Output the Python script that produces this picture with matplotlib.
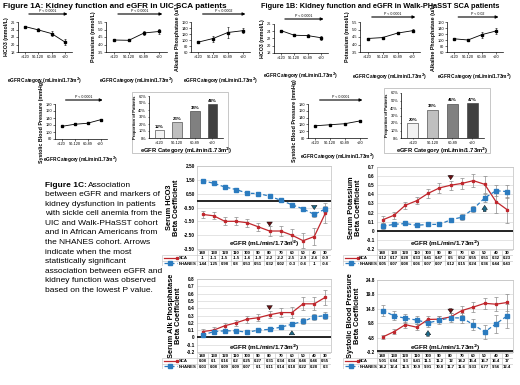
import numpy as np
import matplotlib
matplotlib.use("Agg")
import matplotlib.pyplot as plt
from matplotlib.patches import Rectangle
from matplotlib.ticker import FuncFormatter

plt.rcParams['font.family'] = ['Liberation Sans', 'DejaVu Sans']

# ---- Figure 1A / 1B data (eGFR categories) ----
categories = ['>120', '90-120', '60-89', '<60']

uic_hco3 = [24.8, 23.9, 22.9, 20.6]
uic_hco3_err = [0.2, 0.4, 0.6, 0.8]
uic_k = [4.30, 4.28, 4.77, 4.87]
uic_k_err = [0.03, 0.05, 0.12, 0.15]
uic_alp = [93, 105, 125, 131]
uic_alp_err = [3, 10, 18, 9]
uic_sbp = [116, 122, 125, 135]
uic_sbp_err = [1, 2, 2, 3]
uic_prop = [12, 23, 38, 48]
uic_p = ['P < 0.0001', 'P < 0.0001', 'P < 0.0002', 'P < 0.0001']

wp_hco3 = [24.2, 22.9, 22.8, 22.2]
wp_hco3_err = [0.1, 0.3, 0.4, 0.5]
wp_k = [4.40, 4.46, 4.76, 4.92]
wp_k_err = [0.02, 0.03, 0.06, 0.10]
wp_alp = [104, 100, 118, 130]
wp_alp_err = [3, 4, 10, 10]
wp_sbp = [116, 119, 122, 130]
wp_sbp_err = [1, 1, 2, 2]
wp_prop = [20, 38, 46, 47]
wp_p = ['P < 0.0001', 'P < 0.0001', 'P < 0.02', 'P < 0.0001']

# ---- Figure 1C data (beta coefficients by eGFR) ----
egfr = ['140', '130', '120', '110', '100', '90', '80', '70', '60', '50', '40', '30']

hco3_sca = [-1.0, -1.1, -1.5, -1.5, -1.6, -1.9, -2.2, -2.2, -2.5, -2.9, -2.6, -0.9]
hco3_sca_err = [0.25, 0.25, 0.3, 0.3, 0.3, 0.3, 0.35, 0.35, 0.45, 0.55, 0.6, 0.7]
hco3_nh = [1.44, 1.25, 0.98, 0.80, 0.53, 0.51, 0.32, 0.02, -0.3, -0.6, -1.0, -0.6]
hco3_nh_err = [0.15, 0.12, 0.1, 0.1, 0.1, 0.1, 0.1, 0.1, 0.12, 0.15, 0.2, 0.2]

k_sca = [0.12, 0.17, 0.28, 0.33, 0.41, 0.47, 0.5, 0.52, 0.55, 0.51, 0.32, 0.23]
k_sca_err = [0.04, 0.04, 0.04, 0.04, 0.05, 0.05, 0.05, 0.06, 0.07, 0.09, 0.12, 0.14]
k_nh = [0.05, 0.07, 0.08, 0.06, 0.07, 0.07, 0.12, 0.15, 0.24, 0.36, 0.44, 0.43]
k_nh_err = [0.03, 0.02, 0.02, 0.02, 0.02, 0.02, 0.02, 0.03, 0.03, 0.04, 0.06, 0.07]

alp_sca = [0.08, 0.1, 0.16, 0.2, 0.25, 0.27, 0.31, 0.34, 0.34, 0.46, 0.46, 0.55]
alp_sca_err = [0.04, 0.04, 0.04, 0.04, 0.05, 0.05, 0.05, 0.06, 0.07, 0.09, 0.09, 0.1]
alp_nh = [0.03, 0.08, 0.09, 0.09, 0.07, 0.1, 0.11, 0.14, 0.18, 0.22, 0.28, 0.3]
alp_nh_err = [0.03, 0.02, 0.02, 0.02, 0.02, 0.02, 0.02, 0.02, 0.03, 0.04, 0.04, 0.05]

sbp_sca = [5.01, 6.84, 9.3, 8.41, 11.1, 11.2, 12, 14.2, 15.4, 16.7, 16.4, 17]
sbp_sca_err = [0.8, 0.9, 1.0, 1.1, 1.1, 1.1, 1.2, 1.4, 1.6, 2.0, 2.4, 2.8]
sbp_nh = [14.2, 12.4, 11.5, 10.9, 9.91, 10.8, 11.7, 11.6, 9.33, 6.77, 9.56, 12.4]
sbp_nh_err = [1.8, 1.6, 1.5, 1.4, 1.4, 1.4, 1.5, 1.7, 1.9, 2.5, 3.0, 4.2]

caption = ["between eGFR and markers of",
           "kidney dysfunction in patients",
           "with sickle cell anemia from the",
           "UIC and Walk-PHaSST cohort",
           "and in African Americans from",
           "the NHANES cohort. Arrows",
           "indicate when the most",
           "statistically significant",
           "association between eGFR and",
           "kidney function was observed",
           "based on the lowest P value."]

W, H = 520, 385
RED = '#c0272d'
BLUE = '#2b7bbf'
XLAB = 'eGFR Category (mL/min/1.73m$^\\mathbf{2}$)'

fig = plt.figure(figsize=(W / 100, H / 100), dpi=100)


def px(x0, y0, x1, y1):
    return [x0 / W, 1 - y1 / H, (x1 - x0) / W, (y1 - y0) / H]


def small_line(rect, vals, errs, ylim, yticks, ylabel, ptext, arrow_px, xlab_px, fmt='%g'):
    ax = fig.add_axes(rect)
    hpx = rect[3] * H
    x = np.arange(len(vals))
    ax.errorbar(x, vals, yerr=errs, color='black', marker='s', ms=1.6, lw=0.6,
                elinewidth=0.4, capsize=1.0, capthick=0.4)
    ax.set_xlim(-0.5, 3.5)
    ax.set_ylim(ylim)
    ax.set_yticks(yticks)
    ax.yaxis.set_major_formatter(FuncFormatter(lambda v, p: fmt % v))
    ax.set_xticks(x)
    ax.set_xticklabels(categories)
    ax.tick_params(labelsize=2.8, length=1.2, width=0.4, pad=1)
    for s in ['top', 'right']:
        ax.spines[s].set_visible(False)
    for s in ['left', 'bottom']:
        ax.spines[s].set_linewidth(0.5)
    ax.set_ylabel(ylabel, fontsize=3.8, weight='bold', labelpad=1)
    ax.set_xlabel(XLAB, fontsize=3.4, weight='bold')
    ax.xaxis.set_label_coords(0.5, -xlab_px / hpx)
    ay = 1 + arrow_px / hpx
    ax.annotate('', xy=(0.97, ay), xytext=(0.15, ay), xycoords='axes fraction',
                arrowprops=dict(arrowstyle='-|>', color='black', lw=0.8,
                                mutation_scale=4), annotation_clip=False)
    ax.text(0.55, ay + 1 / hpx, ptext, transform=ax.transAxes, fontsize=2.6,
            ha='center', va='bottom')
    return ax


def prop_bars(box, rect, vals):
    fig.patches.append(Rectangle((box[0], box[1]), box[2], box[3], transform=fig.transFigure,
                                 facecolor='none', edgecolor='#b0b0b0', lw=0.5, zorder=-1))
    ax = fig.add_axes(rect)
    ax.patch.set_alpha(0)
    x = np.arange(len(vals))
    ax.bar(x, vals, width=0.55, color=['#f2f2f2', '#bfbfbf', '#808080', '#404040'],
           edgecolor='#303030', lw=0.4)
    for xi, v in zip(x, vals):
        ax.text(xi, v + 1.5, '%d%%' % v, ha='center', va='bottom', fontsize=3.2, weight='bold')
    ax.set_ylim(0, 60)
    ax.set_yticks(range(0, 61, 10))
    ax.set_yticklabels(['%d%%' % t for t in range(0, 61, 10)])
    ax.set_xlim(-0.6, 3.6)
    ax.set_xticks(x)
    ax.set_xticklabels(categories)
    ax.tick_params(labelsize=2.8, length=1.0, width=0.4, pad=1)
    for s in ['top', 'right']:
        ax.spines[s].set_visible(False)
    for s in ['left', 'bottom']:
        ax.spines[s].set_linewidth(0.5)
    ax.set_ylabel('Proportion of Patients', fontsize=3.0, weight='bold', labelpad=1)
    ax.set_xlabel(XLAB, fontsize=4.2, weight='bold', labelpad=1)
    return ax


def beta_panel(rect, legend_w, sca, sca_err, nh, nh_err, ylim, yticks, fmt, ylabel,
               red_arrow, blue_arrow):
    ax = fig.add_axes(rect)
    x = np.arange(len(egfr))
    ax.errorbar(x, sca, yerr=sca_err, fmt='none', ecolor='#8c8c8c', elinewidth=0.5,
                capsize=1.2, capthick=0.5, zorder=2)
    ax.errorbar(x, nh, yerr=nh_err, fmt='none', ecolor='#8c8c8c', elinewidth=0.5,
                capsize=1.2, capthick=0.5, zorder=2)
    ax.plot(x, sca, color=RED, lw=0.9, marker='s', ms=1.4, zorder=4)
    ax.plot(x, nh, color=BLUE, lw=0.9, ls=(0, (3, 2)), marker='s', ms=2.6, zorder=4)
    ax.axhline(0, color='black', lw=1.2, zorder=3)
    ax.set_xlim(-0.5, 11.5)
    ax.set_ylim(ylim)
    ax.set_yticks(yticks)
    ax.yaxis.set_major_formatter(FuncFormatter(fmt))
    ax.grid(axis='y', color='#d9d9d9', lw=0.5)
    ax.set_axisbelow(True)
    ax.set_xticks([])
    ax.tick_params(axis='y', labelsize=3.4, length=0, pad=1.5)
    for lab in ax.get_yticklabels():
        lab.set_fontweight('bold')
    for s in ax.spines.values():
        s.set_color('#bfbfbf')
        s.set_linewidth(0.5)
    ax.set_ylabel(ylabel, fontsize=5.3, weight='bold', labelpad=3, linespacing=1.0)
    ax.text(0.5, 0.06, 'eGFR (mL/min/1.73m$^\\mathbf{2}$)', transform=ax.transAxes,
            ha='center', va='center', fontsize=4.6, weight='bold')
    # significance arrows
    style = 'simple,head_width=0.8,head_length=0.6,tail_width=0.4'
    rx, ry0, ry1 = red_arrow
    ax.annotate('', xy=(rx, ry1), xytext=(rx, ry0),
                arrowprops=dict(arrowstyle=style, fc='#6b0f12', ec='black', lw=0.3,
                                mutation_scale=5))
    bx, by0, by1 = blue_arrow
    ax.annotate('', xy=(bx, by1), xytext=(bx, by0),
                arrowprops=dict(arrowstyle=style, fc='#1d6a8a', ec='black', lw=0.3,
                                mutation_scale=5))

    # data table under the plot, sharing the category positions
    units = legend_w / (rect[2] * W) * 12
    tab = fig.add_axes([rect[0] - legend_w / W, rect[1] - 17 / H,
                        rect[2] + legend_w / W, 16.5 / H])
    tab.set_xlim(-0.5 - units, 11.5)
    tab.set_ylim(3, 0)
    tab.axis('off')
    gc = '#bfbfbf'
    tab.hlines([0, 1, 2, 3], -0.5, 11.5, color=gc, lw=0.4)
    tab.hlines([1, 2, 3], -0.5 - units, -0.5, color=gc, lw=0.4)
    tab.vlines(np.arange(-0.5, 12, 1), 0, 3, color=gc, lw=0.4)
    tab.vlines(-0.5 - units, 1, 3, color=gc, lw=0.4)
    rows = [egfr, sca, nh]
    for r, vals in enumerate(rows):
        for i, v in enumerate(vals):
            txt = v if isinstance(v, str) else '%g' % v
            tab.text(i, r + 0.55, txt, ha='center', va='center', fontsize=3.1, weight='bold')
    lx0 = -0.5 - units + 0.15
    lx1 = lx0 + units * 0.38
    tab.plot([lx0, lx1], [1.5, 1.5], color=RED, lw=0.9, marker='s', ms=1.4, markevery=[1])
    tab.plot([lx0, lx1], [2.5, 2.5], color=BLUE, lw=0.9, ls=(0, (3, 2)))
    tab.plot([(lx0 + lx1) / 2], [2.5], color=BLUE, marker='s', ms=2.4)
    tab.text(lx1 + 0.15, 1.55, 'SCA', fontsize=3.1, weight='bold', va='center')
    tab.text(lx1 + 0.15, 2.55, 'NHANES', fontsize=3.1, weight='bold', va='center')
    return ax


# ---- Figure 1A ----
fig.text(3 / W, 1 - 6 / H, 'Figure 1A: Kidney function and eGFR in UIC SCA patients',
         fontsize=5.9, weight='bold', va='center')
small_line(px(18, 22, 72, 52), uic_hco3, uic_hco3_err, (18, 26), range(18, 27, 2),
           'HCO3 (mmol/L)', uic_p[0], 8, 24)
small_line(px(106, 22, 167, 52), uic_k, uic_k_err, (3.5, 5.5), np.arange(3.5, 5.6, 0.5),
           'Potassium (mmol/L)', uic_p[1], 8, 24, fmt='%.1f')
small_line(px(191, 22, 250, 52), uic_alp, uic_alp_err, (60, 160), range(60, 161, 20),
           'Alkaline Phosphatase (u/L)', uic_p[2], 8, 24)
small_line(px(55, 104, 107, 139), uic_sbp, uic_sbp_err, (80, 180), range(80, 181, 20),
           'Systolic Blood Pressure (mmHg)', uic_p[3], 4, 16)
prop_bars(px(132, 92, 228, 153), px(149, 96, 223, 138), uic_prop)

# ---- Figure 1B ----
fig.text(261 / W, 1 - 6 / H, 'Figure 1B: Kidney function and eGFR in Walk-PHaSST SCA patients',
         fontsize=5.3, weight='bold', va='center')
small_line(px(274, 24, 328, 53), wp_hco3, wp_hco3_err, (18, 26), range(18, 27, 2),
           'HCO3 (mmol/L)', wp_p[0], 5, 18)
small_line(px(360, 22, 420, 52), wp_k, wp_k_err, (3.5, 5.5), np.arange(3.5, 5.6, 0.5),
           'Potassium (mmol/L)', wp_p[1], 5, 20, fmt='%.1f')
small_line(px(447, 22, 503, 52), wp_alp, wp_alp_err, (60, 160), range(60, 161, 20),
           'Alkaline Phosphatase (u/L)', wp_p[2], 5, 20)
small_line(px(308, 104, 367, 138), wp_sbp, wp_sbp_err, (80, 180), range(80, 181, 20),
           'Systolic Blood Pressure (mmHg)', wp_p[3], 4, 14)
prop_bars(px(384, 88, 490, 153), px(401, 93, 484, 138), wp_prop)

# ---- Figure 1C caption ----
t = fig.text(45 / W, 1 - 185 / H, 'Figure 1C:', fontsize=6, weight='bold', va='center')
fig.canvas.draw()
bb = t.get_window_extent()
fig.text(bb.x1 / W + 1.5 / W, 1 - 185 / H, 'Association', fontsize=6, va='center')
for i, line in enumerate(caption):
    fig.text(45 / W, 1 - (185 + 9.6 * (i + 1)) / H, line, fontsize=6, va='center')

# ---- Figure 1C panels ----
f2 = lambda v, p: '%.2f' % v
f1 = lambda v, p: '0' if abs(v) < 1e-9 else '%.1f' % v
beta_panel(px(197, 166, 331, 249), 35, hco3_sca, hco3_sca_err, hco3_nh, hco3_nh_err,
           (-3.5, 2.5), np.arange(-3.5, 2.6, 1.0), f2, 'Serum HCO3\nBeta Coefficient',
           (6, -1.5, -2.05), (10, -0.3, -0.85))
beta_panel(px(377, 167, 513, 249), 34, k_sca, k_sca_err, k_nh, k_nh_err,
           (-0.2, 0.7), np.arange(-0.2, 0.71, 0.1), f1, 'Serum Potassium\nBeta Coefficient',
           (6, 0.64, 0.53), (9, 0.18, 0.31))
beta_panel(px(197, 279, 331, 352), 35, alp_sca, alp_sca_err, alp_nh, alp_nh_err,
           (-0.2, 0.8), np.arange(-0.2, 0.81, 0.1), f1, 'Serum Alk Phosphatase\nBeta Coefficient',
           (6, 0.44, 0.34), (8, 0.0, 0.13))
beta_panel(px(377, 280, 513, 352), 34, sbp_sca, sbp_sca_err, sbp_nh, sbp_nh_err,
           (-0.2, 24.8), np.arange(-0.2, 24.9, 5), f1, 'Systolic Blood Pressure\nBeta Coefficient',
           (6, 15.8, 12.3), (4, 4.3, 8.2))

fig.savefig('out.png', dpi=100)
